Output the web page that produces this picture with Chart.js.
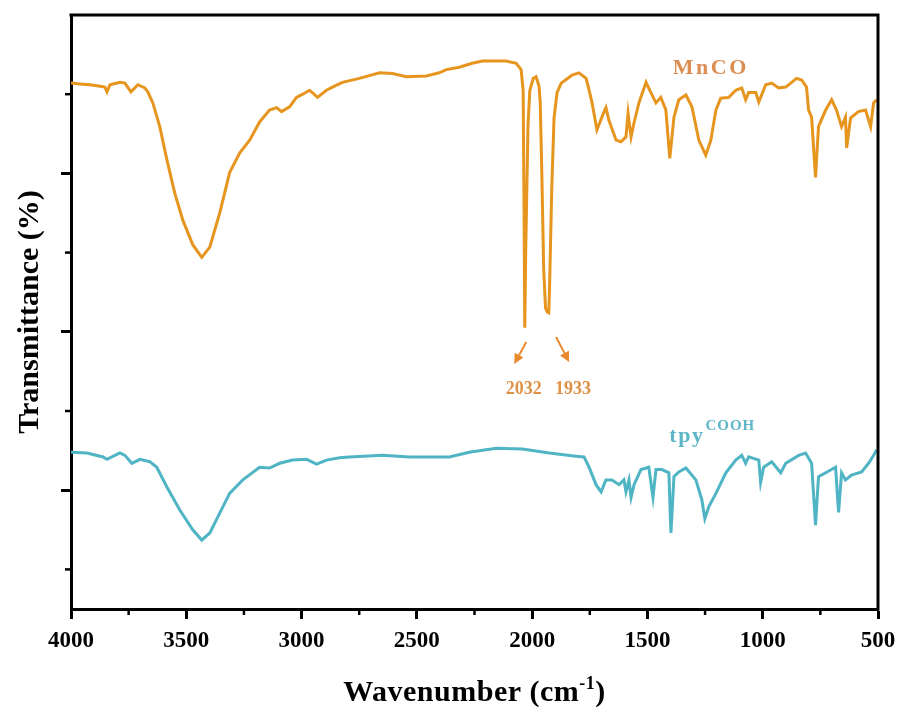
<!DOCTYPE html>
<html lang="en">
<head>
<meta charset="UTF-8">
<title>FTIR spectra</title>
<script src="https://cdn.jsdelivr.net/npm/chart.js@4.4.0/dist/chart.umd.min.js"></script>
<style>
  html, body { margin: 0; padding: 0; background: #fff; }
</style>
</head>
<body>
<canvas id="chart" width="901" height="711"></canvas>
<script>
// MnCO spectrum (wavenumber, transmittance)
const wnMnCO = [4000,3961,3918,3874,3853,3844,3831,3788,3766,3740,3710,3680,3667,3645,3615,3584,3550,3515,3472,3433,
  3398,3355,3312,3268,3225,3182,3139,3108,3087,3052,3022,2995,2965,2931,2892,2866,2823,2749,2662,2606,
  2545,2459,2403,2372,2316,2260,2216,2113,2069,2048,2039,2035,2032,2028,2018,2010,1995,1983,1970,1965,
  1958,1950,1942,1935,1928,1925,1915,1905,1892,1874,1827,1797,1766,1753,1740,1719,1688,1680,1667,1636,
  1615,1593,1584,1571,1558,1537,1506,1485,1463,1442,1420,1403,1385,1364,1333,1307,1277,1247,1225,1203,
  1182,1147,1117,1091,1074,1061,1030,1017,987,961,931,900,853,831,810,801,788,771,758,727,
  701,680,658,641,636,619,585,554,532,519,506];
const tMnCO = [91.4,91.3,91.2,91.0,90.9,90.3,91.2,91.5,91.4,90.3,91.2,90.8,90.3,88.9,85.9,81.7,77.5,74.1,71.0,69.4,
  70.7,75.0,80.1,82.6,84.2,86.5,88.0,88.3,87.8,88.4,89.6,90.0,90.5,89.6,90.5,90.9,91.5,92.0,92.7,92.6,
  92.2,92.3,92.7,93.1,93.4,93.9,94.2,94.2,93.9,93.1,90.5,75.0,60.5,70.0,86.0,90.5,92.0,92.2,91.0,89.0,
  80.0,68.0,63.0,62.5,62.4,65.0,78.0,87.0,90.2,91.4,92.4,92.7,92.0,90.5,88.9,85.5,87.8,88.3,86.7,84.2,
  84.0,84.6,87.6,84.6,86.4,88.9,91.5,90.2,88.9,89.6,88.0,81.9,87.1,89.3,89.9,88.4,84.2,82.3,84.2,88.0,
  89.5,89.6,90.5,90.8,89.3,90.2,90.2,89.0,91.2,91.4,90.8,90.9,92.0,91.8,90.9,88.0,87.1,79.5,85.9,88.0,
  89.3,88.0,85.9,87.1,83.2,87.0,87.8,88.0,85.9,88.9,89.3];

// tpy-COOH spectrum
const wnTpy = [4000,3931,3861,3844,3788,3766,3736,3701,3658,3628,3584,3528,3472,3433,3398,3355,3312,3255,3182,3139,
  3095,3039,2978,2935,2892,2835,2792,2649,2532,2433,2359,2273,2156,2043,1926,1810,1775,1753,1723,1701,
  1680,1654,1623,1602,1593,1580,1571,1558,1528,1494,1476,1463,1437,1407,1398,1385,1364,1333,1290,1264,
  1251,1234,1203,1160,1117,1091,1074,1061,1017,1009,996,961,922,900,844,814,788,771,758,727,
  684,671,658,641,615,571,541,519,506];
const tTpy = [44.8,44.7,44.2,43.9,44.7,44.4,43.4,43.9,43.6,42.9,40.4,37.5,35.0,33.7,34.6,37.1,39.6,41.3,42.9,42.8,
  43.4,43.8,43.9,43.3,43.8,44.1,44.2,44.4,44.2,44.2,44.2,44.8,45.3,45.2,44.7,44.3,44.2,42.9,40.7,39.8,
  41.3,41.3,40.7,41.3,39.8,41.3,39.1,40.7,42.6,42.9,39.1,42.6,42.6,42.2,34.6,41.7,42.3,42.8,41.3,38.8,
  36.4,37.9,39.6,42.2,43.8,44.4,43.4,44.2,43.8,41.0,42.9,43.6,42.2,43.4,44.4,44.7,43.4,35.6,41.7,42.2,
  42.9,37.2,42.2,41.3,41.9,42.3,43.4,44.4,45.1];

const xTickValues = [4000,3750,3500,3250,3000,2750,2500,2250,2000,1750,1500,1250,1000,750,500];
const yTickValues = [30,40,50,60,70,80,90];
const peakWn = [2032, 1933];
const peakLabels = ['2032', '1933'];

const SERIF = '"Liberation Serif", "Times New Roman", serif';
const ORANGE = '#E6951F';
const TEAL = '#4FB4C4';

function series(wn, t, color) {
  return {
    data: wn.map((w, i) => ({ x: w, y: t[i] })),
    borderColor: color,
    borderWidth: 3,
    pointRadius: 0,
    tension: 0,
    fill: false
  };
}

function arrow(ctx, x1, y1, x2, y2) {
  const ang = Math.atan2(y2 - y1, x2 - x1);
  const hl = 10, hw = 5;
  const bx = x2 - hl * Math.cos(ang), by = y2 - hl * Math.sin(ang);
  ctx.beginPath();
  ctx.moveTo(x1, y1);
  ctx.lineTo(bx, by);
  ctx.stroke();
  ctx.beginPath();
  ctx.moveTo(x2, y2);
  ctx.lineTo(bx + hw * Math.sin(ang), by - hw * Math.cos(ang));
  ctx.lineTo(bx - hw * Math.sin(ang), by + hw * Math.cos(ang));
  ctx.closePath();
  ctx.fill();
}

// frame, minor ticks, annotations, x title
const decor = {
  id: 'decor',
  afterDraw(chart) {
    const { ctx, chartArea: a, scales: { x, y } } = chart;
    ctx.save();
    ctx.strokeStyle = '#000';
    ctx.lineWidth = 3;
    ctx.beginPath();
    ctx.moveTo(a.left - 1.5, a.top);
    ctx.lineTo(a.right, a.top);
    ctx.lineTo(a.right, a.bottom + 1.5);
    ctx.stroke();

    ctx.lineWidth = 2.5;
    xTickValues.filter(v => v % 500 !== 0).forEach(v => {
      const px = x.getPixelForValue(v);
      ctx.beginPath(); ctx.moveTo(px, a.bottom); ctx.lineTo(px, a.bottom + 6); ctx.stroke();
    });
    yTickValues.filter(v => v % 20 !== 0).forEach(v => {
      const py = y.getPixelForValue(v);
      ctx.beginPath(); ctx.moveTo(a.left, py); ctx.lineTo(a.left - 6, py); ctx.stroke();
    });

    // peak arrows + labels
    ctx.strokeStyle = '#E8892E';
    ctx.fillStyle = '#E8892E';
    ctx.lineWidth = 2;
    const p0 = x.getPixelForValue(peakWn[0]);
    const p1 = x.getPixelForValue(peakWn[1]);
    arrow(ctx, p0 + 1.5, 342, p0 - 10.5, 364);
    arrow(ctx, p1 + 8.5, 337, p1 + 21.5, 362);
    ctx.fillStyle = '#DF9146';
    ctx.font = 'bold 18px ' + SERIF;
    ctx.textAlign = 'center';
    ctx.textBaseline = 'alphabetic';
    ctx.fillText(peakLabels[0], p0 - 1, 394);
    ctx.fillText(peakLabels[1], p1 + 25.5, 394);

    // series labels
    ctx.letterSpacing = '2.5px';
    ctx.fillStyle = '#DC8D52';
    ctx.font = 'bold 22px ' + SERIF;
    ctx.fillText('MnCO', x.getPixelForValue(1225), y.getPixelForValue(92.6));

    ctx.textAlign = 'left';
    ctx.fillStyle = '#5DB6C6';
    ctx.letterSpacing = '1.5px';
    const tx = x.getPixelForValue(1405), ty = y.getPixelForValue(46.1);
    ctx.font = 'bold 22px ' + SERIF;
    ctx.fillText('tpy', tx, ty);
    const tw = ctx.measureText('tpy').width;
    ctx.letterSpacing = '1px';
    ctx.font = 'bold 15px ' + SERIF;
    ctx.fillText('COOH', tx + tw + 1, ty - 12);

    // x axis title with superscript
    ctx.letterSpacing = '0.5px';
    ctx.fillStyle = '#000';
    const big = 'bold 30px ' + SERIF, small = 'bold 18px ' + SERIF;
    ctx.font = big;
    const w1 = ctx.measureText('Wavenumber (cm').width;
    const w3 = ctx.measureText(')').width;
    ctx.font = small;
    const w2 = ctx.measureText('-1').width;
    let sx = (a.left + a.right) / 2 - (w1 + w2 + w3) / 2;
    const base = 701;
    ctx.font = big;
    ctx.fillText('Wavenumber (cm', sx, base);
    ctx.font = small;
    ctx.fillText('-1', sx + w1, base - 12);
    ctx.font = big;
    ctx.fillText(')', sx + w1 + w2, base);
    ctx.restore();
  }
};

const ctx = document.getElementById('chart').getContext('2d');
new Chart(ctx, {
  type: 'line',
  data: {
    datasets: [series(wnMnCO, tMnCO, ORANGE), series(wnTpy, tTpy, TEAL)]
  },
  options: {
    responsive: false,
    animation: false,
    devicePixelRatio: 1,
    layout: { padding: { left: 8, right: 23, top: 15, bottom: 0 } },
    plugins: { legend: { display: false }, tooltip: { enabled: false } },
    scales: {
      x: {
        type: 'linear',
        reverse: true,
        min: 500,
        max: 4000,
        afterBuildTicks: s => { s.ticks = xTickValues.map(v => ({ value: v })); },
        afterFit: s => { s.height = 102; s.paddingLeft = 0; s.paddingRight = 0; },
        grid: {
          drawOnChartArea: false,
          tickLength: 10,
          tickColor: '#000',
          tickWidth: c => (c.tick && c.tick.value % 500 === 0 ? 3 : 0)
        },
        border: { color: '#000', width: 3 },
        ticks: {
          autoSkip: false,
          maxRotation: 0,
          padding: 8,
          color: '#000',
          font: { family: SERIF, size: 23, weight: 'bold' },
          callback: v => (v % 500 === 0 ? String(v) : '')
        }
      },
      y: {
        type: 'linear',
        min: 25,
        max: 100,
        afterBuildTicks: s => { s.ticks = yTickValues.map(v => ({ value: v })); },
        afterFit: s => { s.width = 63; s.paddingTop = 0; s.paddingBottom = 0; },
        grid: {
          drawOnChartArea: false,
          tickLength: 10,
          tickColor: '#000',
          tickWidth: c => (c.tick && c.tick.value % 20 === 0 ? 3 : 0)
        },
        border: { color: '#000', width: 3 },
        ticks: { display: false },
        title: {
          display: true,
          text: 'Transmittance (%)',
          color: '#000',
          font: { family: SERIF, size: 30, weight: 'bold' },
          padding: { top: 4, bottom: 4 }
        }
      }
    }
  },
  plugins: [decor]
});
</script>
</body>
</html>
